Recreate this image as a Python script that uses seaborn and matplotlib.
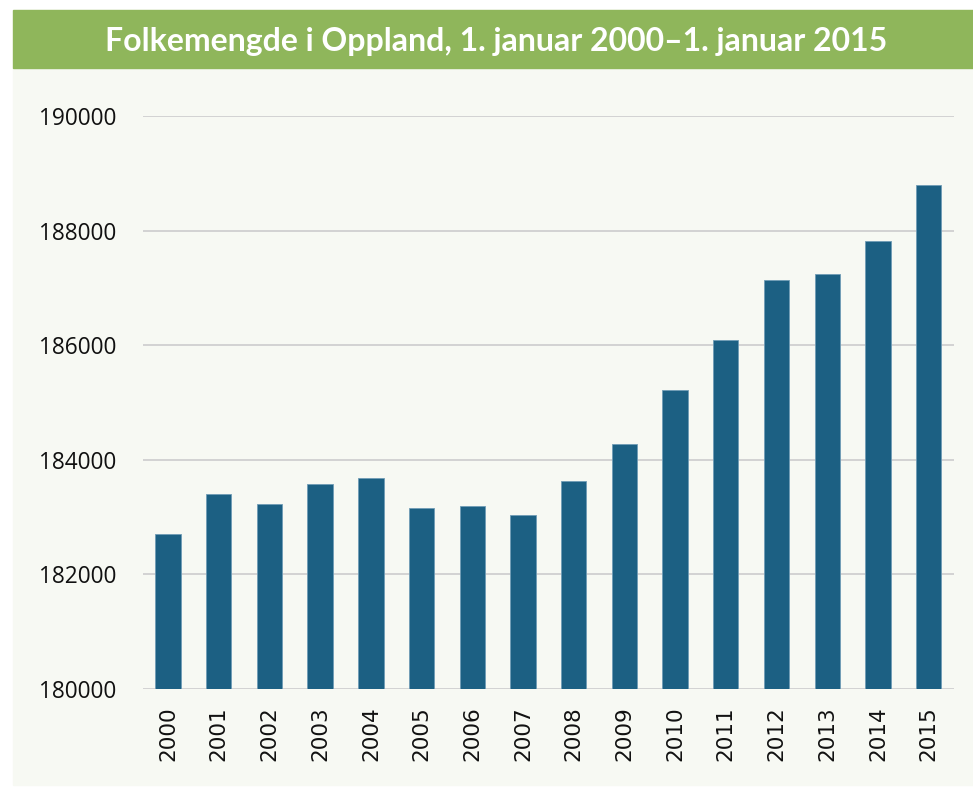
import matplotlib
matplotlib.use("Agg")
import matplotlib.pyplot as plt
from matplotlib.patches import Rectangle
import seaborn as sns
import pandas as pd

years = ["2000", "2001", "2002", "2003", "2004", "2005", "2006", "2007",
         "2008", "2009", "2010", "2011", "2012", "2013", "2014", "2015"]
population = [182697, 183408, 183227, 183571, 183676, 183163, 183198, 183029,
              183630, 184280, 185213, 186088, 187137, 187248, 187815, 188800]
yticks = [180000, 182000, 184000, 186000, 188000, 190000]
title = "Folkemengde i Oppland, 1. januar 2000\u20131. januar 2015"

df = pd.DataFrame({"year": years, "population": population})

bg = "#f7f9f3"
green = "#8fb65b"
bar_color = "#1c6083"

sns.set_theme(style="white")

W, H = 973, 790
fig = plt.figure(figsize=(W / 100, H / 100), dpi=100, facecolor="white")

# light panel and green header band, behind the axes
fig.patches.append(Rectangle((13 / W, 1 - 785 / H), (W - 13) / W, 717 / H,
                             transform=fig.transFigure, color=bg, zorder=-10))
fig.patches.append(Rectangle((13 / W, 1 - 68 / H), (W - 13) / W, 58 / H,
                             transform=fig.transFigure, color=green, zorder=-10))
fig.text(496 / W, 1 - 41 / H, title, ha="center", va="center", color="white",
         fontsize=23, fontweight="bold", family=["Lato", "DejaVu Sans"])

ax = fig.add_axes([142.7 / W, 1 - 689 / H, (954 - 142.7) / W, (689 - 116) / H])
ax.set_facecolor(bg)

sns.barplot(data=df, x="year", y="population", color=bar_color, width=0.5,
            saturation=1, edgecolor="#6f9cb6", linewidth=0.6, ax=ax, zorder=3)

ax.set_ylim(180000, 190000)
ax.set_xlim(-0.5, len(years) - 0.5)
ax.set_yticks(yticks)
ax.set_yticklabels([str(t) for t in yticks], family="Open Sans", fontsize=16.3,
                   color="#111111")
ax.set_xticks(range(len(years)))
ax.set_xticklabels(years, rotation=90, family="DejaVu Sans", fontsize=15.5,
                   color="#111111")
ax.tick_params(axis="y", length=0, pad=19)
ax.tick_params(axis="x", length=0, pad=12.5)
ax.yaxis.grid(True, color="#d0d0d0", linewidth=1.3, zorder=0)
ax.set_axisbelow(True)
ax.set_xlabel("")
ax.set_ylabel("")
for s in ax.spines.values():
    s.set_visible(False)

fig.savefig("out.png", dpi=100, facecolor="white")
